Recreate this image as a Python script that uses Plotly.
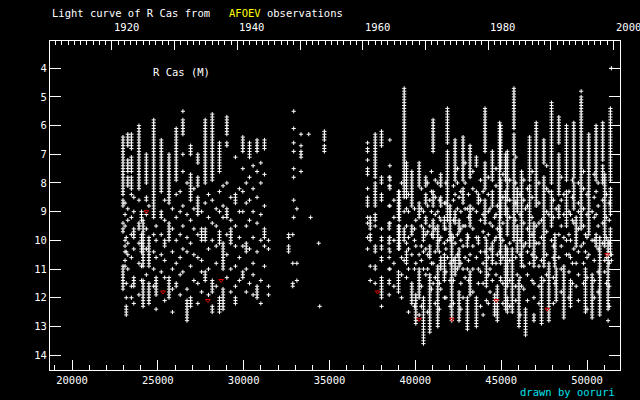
import plotly.graph_objects as go

# ---------------- data ----------------
# Each column: JD-2400000 and the visual estimates (mag) seen at that date.
# "a-b" = every 0.1 mag estimate seen from a to b, single numbers = lone points.
left_jd = [22970, 23090, 23160, 23250, 23460, 23600, 23900, 24050, 24140, 24330,
           24480, 24760, 24900, 25200, 25400, 25650, 25850, 26070, 26300, 26460,
           26700, 26910, 27100, 27330, 27550, 27760, 27950, 28170, 28400, 28590,
           28800, 29020, 29250, 29520, 29750, 29950, 30150, 30340, 30550, 30780,
           31000, 31210, 31450]
left_runs = [
    "6.4-8.4 8.6-8.8 9.4 9.6-9.7 10.9-11.7",
    "8.7 9.1 9.5 10.0 10.2 10.4 10.7 10.9",
    "9.9 10.4 11.5 12.0 12.3-12.6",
    "6.3-6.7 7.2-7.6 7.8-8.1 8.9 9.3 10.1 10.5 11.0",
    "6.3-6.8 7.1-7.6 7.8-8.2 8.4 9.2 9.8 10.6 11.6 12.0",
    "8.5 9.0 9.6-9.9 10.3 11.3-11.6 12.2",
    "6.0-8.2 8.6 9.4-9.6 10.1 10.8 11.9",
    "9.0-9.3 9.8-10.4 10.9 11.4",
    "9.3-10.9 11.4-12.3",
    "7.0-8.0 8.5-8.6 9.1 9.6 10.3 11.2",
    "8.8 9.9-10.9 11.5-12.2",
    "5.8-9.2 9.8 10.4 11.0 11.6",
    "9.5 10.0 10.6 11.3-11.9 12.4",
    "6.5-8.3 9.0-9.2 9.8 10.5 11.1",
    "8.6 9.3 10.0-10.2 10.7 11.3 12.1",
    "7.0-8.7 9.4-10.0 11.3-12.0",
    "8.9 9.6 10.4 11.0 11.7 12.5",
    "6.1-7.9 8.4 9.2 10.0 10.8 11.5-11.6",
    "8.3 9.0 9.8 10.6 11.2 11.9",
    "5.5 5.8-6.3 7.0 7.6 8.8 9.5 10.3 11.1",
    "8.0 9.1 9.9 10.4 11.7 12.1-12.8",
    "6.7-7.0 7.7-8.6 9.3 10.1 10.9 12.0-12.3",
    "8.2 8.9 9.6 10.5 11.4",
    "7.0-7.3 7.8-8.1 8.5-9.1 9.8 10.6 11.5 12.2",
    "9.0 9.6-10.0 10.7 11.1 11.8",
    "5.8-8.0 8.7 9.6-10.0 11.1-11.4",
    "8.4 9.2 10.3 11.0 11.9",
    "5.6-7.9 8.6 9.4 10.0 11.4-11.8 12.3-12.5",
    "8.9 9.5 10.2 10.8 11.6",
    "6.6-7.6 8.3 9.0 9.7-10.1 12.0-12.5",
    "8.1 8.8 9.2 10.1-11.0 11.7-12.4",
    "5.7-6.3 6.6-6.7 8.0 8.9-9.2 9.8 10.5 11.3",
    "8.5 9.3 9.6-10.1 11.0 11.8",
    "7.1 8.4-8.7 9.5 10.2 10.9 11.6 12.0-12.2",
    "8.2 9.0 9.9 10.6 11.4",
    "6.4-6.9 7.5 8.3 9.0 10.2 11.1-11.3",
    "8.0 8.7 9.5 10.1-10.4 11.0 11.8",
    "6.6-7.1 7.8 8.6 9.3 10.3 11.5",
    "7.4 8.2 9.0 9.9 10.8 11.2 11.9",
    "6.5-6.9 7.6 8.5 9.4 10.4 11.6-12.0",
    "7.3 8.0 9.1 10.0 11.4 12.2",
    "6.5-6.8 7.7 8.8 9.6-9.9 10.2 10.9",
    "10.0 10.3 11.6 11.9",
]

mid_jd = [32620, 32860, 32915, 33100, 33340, 33790, 33900, 34370, 34430, 34700]
mid_runs = [
    "9.8-9.9 10.2-10.4",
    "9.8 10.8 11.5 11.6",
    "5.5 6.1 6.6 6.9 7.5 7.8 8.6 9.2",
    "8.9 10.8 11.4",
    "6.3 6.7 6.9-7.1 7.6",
    "6.3",
    "9.2",
    "10.1",
    "12.3",
    "6.2-6.5 6.7-6.9",
]

right_jd = [37217, 37372, 37663, 38031, 38477, 38516, 38750, 39020, 39059, 39200,
            39350, 39485, 39600, 39795, 39950, 40028, 40221, 40350, 40473, 40610,
            40720, 40842, 40940, 41036, 41160, 41307, 41400, 41481, 41694, 41780,
            41869, 42024, 42121, 42220, 42315, 42450, 42547, 42650, 42780, 42900,
            43032, 43100, 43187, 43350, 43555, 43671, 43800, 43950, 44060, 44137,
            44250, 44350, 44485, 44620, 44700, 44776, 44912, 44969, 45100, 45260,
            45357, 45500, 45647, 45744, 45850, 45938, 46035, 46100, 46190, 46320,
            46422, 46530, 46655, 46800, 46907, 47043, 47200, 47353, 47488, 47650,
            47779, 47934, 48040, 48128, 48205, 48360, 48500, 48651, 48806, 48950,
            49039, 49150, 49232, 49368, 49500, 49659, 49800, 49911, 50000, 50105,
            50298, 50420, 50531, 50650, 50744, 50919, 51035, 51130, 51229, 51300,
            51364, 51420]
right_runs = [
    "6.6 6.8-6.9 7.2 7.5-7.7 8.2 8.5-8.8 9.2 9.4 9.9 10.3",
    "9.2-9.6 9.8-10.0 10.9 11.4",
    "6.3-7.8 8.0-8.8 9.1-9.3 9.5 10.2-10.4 10.9-11.0 11.5",
    "6.2-6.7 7.8-8.0 8.4-8.6 9.6 9.9-10.0 10.2-10.3 10.6-10.7 11.3-12.0 12.3",
    "7.8 8.1 8.8 9.4-9.6 9.9-10.1 10.3 10.6 11.0 11.4-11.5 11.9",
    "6.5 7.4 7.8-7.9 8.1-8.2 8.8 9.4 9.9 10.4 11.0",
    "8.6 9.2 10.0 10.8 11.6",
    "8.3-9.2 9.5-10.3 11.1-11.8",
    "8.3-9.3 9.5-10.3",
    "8.0 10.6 11.2 12.0",
    "4.7-6.5 6.6-8.5 9.0 9.6-10.0 10.7",
    "7.3-8.5 8.9 9.5 10.1 10.4-10.8 11.3",
    "8.4 9.0 9.9 10.3 11.0 12.5",
    "7.6-8.8 9.5-9.8 10.5 11.5-12.2",
    "8.9 9.6 10.0 11.0 12.3",
    "9.3 10.2 10.8 11.9-12.9",
    "7.3-8.1 8.7-9.2 10.5 11.0-12.0 12.6",
    "8.2 8.9 9.5 10.2 10.7 11.6 12.3",
    "9.0 9.6-10.0 10.4 11.0 12.0-13.6",
    "7.8-8.1 8.4-8.7 9.2-9.4 9.8 10.3 11.2",
    "8.0 8.8 9.7 10.5 11.0 12.5",
    "8.6 9.5 10.2-10.6 11.2-13.2",
    "7.6 8.3 9.0 9.8 10.8 11.7",
    "5.8-6.9 8.3-8.8 9.3-9.9 10.8 11.5",
    "7.9 8.5 9.1 9.6 10.4 11.3 12.2",
    "8.0 9.0 9.5-10.3 10.9-13.0",
    "8.6 9.2 10.0 10.4 11.5 12.4",
    "7.7-8.1 8.5-8.8 9.3 9.9 10.6-11.0 11.7",
    "8.7 9.2-9.6 10.1 10.5-11.4 12.0",
    "8.0 8.7 9.6 10.3 11.1 12.0",
    "5.4-6.6 6.9-7.8 7.9-9.3 10.0 10.6",
    "8.8-10.0 10.8 11.4 12.3",
    "9.8-12.8",
    "8.1 8.6 9.3 9.9 10.7 11.4 12.2",
    "6.5-7.9 8.4 9.0-9.4 10.1 10.6-11.2",
    "7.5 8.0 8.9 9.8 10.5 11.0",
    "8.5 9.3-9.7 10.3-10.9 11.8-12.8",
    "8.3 9.0 9.6 10.0 10.8 11.5 12.4",
    "6.4-7.9 8.2-8.7 9.5 10.2 11.0 12.0",
    "7.3 8.0 8.9 9.5 10.6 11.3",
    "8.9 9.8-10.2 11.0 12.0-13.1",
    "8.4 9.2 9.9 10.7 11.4",
    "6.7-7.8 8.8-9.5 10.5 11.1-11.9",
    "7.6 8.2 8.9 9.6 10.2 11.0 11.8",
    "7.1-7.4 8.3 9.0 9.9 10.6 12.0-13.0",
    "8.4-8.7 9.9-10.1 11.0 11.5",
    "7.9 8.6 9.3 10.4 11.1 12.3",
    "8.3 9.1 9.7 10.8 11.5 12.6",
    "5.4-6.9 7.3-8.2 8.6-9.4 9.9 10.4",
    "10.0-11.6 12.1",
    "7.8 8.4 9.0 9.8 10.6 11.2 12.2",
    "8.9 9.4 10.3 11.0 11.8",
    "6.9-7.9 8.3-8.8 9.5 10.1-10.8 11.4",
    "9.2 10.0 11.9-12.6",
    "7.5 8.1 9.1 9.9 10.8 11.2",
    "8.8 9.6 10.5 11.6-12.8",
    "5.9-7.9 8.0-9.9 10.4",
    "6.0-7.5 7.9-9.2 9.6-10.8 11.3-11.4",
    "7.7 8.5 9.4 10.0 10.6 11.5 12.2",
    "7.0-7.9 8.3-9.1 10.2-12.4",
    "6.9-8.6 8.9-9.8 10.3-11.6 12.0-12.5",
    "7.9 8.6 9.2 10.1 10.7 11.4 12.3",
    "10.3-12.5",
    "4.7-6.1 6.3-7.0 7.2-7.8 7.9-10.0",
    "7.1 8.0 8.7 9.3 10.6 11.6 12.1",
    "8.2-9.0 9.5-10.4 11.2",
    "11.4-13.0",
    "8.4 9.1 10.0 10.5 11.3 12.6",
    "7.6-9.4 9.5-10.9 11.6",
    "7.9 8.6 9.4 10.2 10.9 11.7",
    "8.9 10.1 12.4-13.3",
    "8.2 8.8 9.6 10.4 11.2 12.1",
    "6.4-7.9 8.1-10.2 10.8",
    "7.6 8.5 9.2 9.8 10.5 11.4",
    "9.4-10.9 11.5 12.0 12.6-12.8",
    "5.9-7.8 7.9-8.8 9.5 10.1 10.6",
    "8.0 8.7 9.4 10.1 10.9 11.6 12.2",
    "9.3 9.9 10.7 11.3-12.9",
    "6.5-7.3 7.8-10.9 11.4",
    "7.4 8.2 9.0 9.7 10.5 11.2",
    "8.3 9.1 10.8-12.8",
    "5.2-8.0 8.3-9.5 10.0",
    "8.6 9.2 10.2 10.6 11.3 12.2",
    "9.8-10.9 11.5",
    "8.9 11.0-12.1",
    "5.7-6.6 7.0-8.4 8.8-9.2 9.8 10.6",
    "7.8 8.6 9.5 10.2 11.0 11.8",
    "8.4 9.1 9.9 10.9-12.7",
    "6.0-7.9 8.3-9.5 10.0 10.5",
    "8.3 9.0 9.8 10.5 11.1 12.0",
    "9.1 10.0 10.6 11.4-12.3",
    "7.9 8.5 9.3 10.8 11.5",
    "5.9-7.8 8.0-8.9 9.4 10.3",
    "9.2-10.2 10.8 11.6",
    "8.0 8.7 9.0 9.6 10.4 11.2 12.1",
    "4.8 5.0-6.9 7.0-9.6 10.2",
    "7.6 8.2 8.9 9.5 10.1 10.8 11.5",
    "9.8 10.4 11.0-12.5",
    "8.4 9.1 9.9 10.6 11.3 12.4",
    "6.3-8.6 8.7-9.8 10.5",
    "9.0 10.0 11.2-12.7",
    "7.7 8.5 9.2 10.0 10.7 11.4 12.0",
    "6.0-7.9 8.3 9.1 9.8-10.2",
    "8.0 8.8 9.5 10.3 11.1 11.8",
    "9.9-12.6",
    "5.9-7.2 7.4-8.0 8.6 9.4 10.1",
    "7.7-10.2 10.7 11.1",
    "8.4 9.2 9.9 10.6 11.5",
    "10.0-12.4 12.8",
    "8.7 9.3 10.1 10.8 11.6 12.3",
    "5.4-7.9 8.2-9.1 9.6-10.5",
    "4.0 10.5 10.7",
]

# "fainter than" estimates (red marks)
lim_jd = [24331, 25297, 27913, 28690, 37797, 40221, 42122, 44716, 47683, 51170]
lim_mag = [9.0, 11.8, 12.1, 11.4, 11.8, 12.75, 12.75, 12.1, 12.4, 10.5]

# axis ticks
jd_ticks = [20000, 25000, 30000, 35000, 40000, 45000, 50000]
mag_ticks = [4, 5, 6, 7, 8, 9, 10, 11, 12, 13, 14]
year_labels = [1920, 1940, 1960, 1980, 2000]
decade_ticks = [1910, 1920, 1930, 1940, 1950, 1960, 1970, 1980, 1990, 2000]
year_ticks = list(range(1904, 2001))

JD_RANGE = [18718, 51922]
MAG_RANGE = [14.52, 3.05]
FONT = "DejaVu Sans Mono"


def expand(runs):
    out = []
    for tok in runs.split():
        if "-" in tok:
            a, b = (float(v) for v in tok.split("-"))
            n = int(round((b - a) * 10))
            out.extend(round(a + i / 10, 1) for i in range(n + 1))
        else:
            out.append(float(tok))
    return out


def year_to_jd(y):
    # JD-2400000 of 1 January of year y
    return 51544.5 + (y - 2000) * 365.25


xs, ys = [], []
for jds, runs in ((left_jd, left_runs), (mid_jd, mid_runs), (right_jd, right_runs)):
    for jd, r in zip(jds, runs):
        for m in expand(r):
            xs.append(jd)
            ys.append(m)

fig = go.Figure()
fig.add_trace(go.Scatter(
    x=xs, y=ys, mode="markers", hoverinfo="skip",
    marker=dict(symbol="cross-thin-open", size=3, color="white",
                line=dict(color="white", width=1)),
))
fig.add_trace(go.Scatter(
    x=lim_jd, y=lim_mag, mode="markers", hoverinfo="skip",
    marker=dict(symbol="triangle-down-open", size=4, color="#e00000",
                line=dict(color="#e00000", width=1)),
))
fig.add_trace(go.Scatter(
    x=JD_RANGE, y=[20, 20], xaxis="x2", mode="markers",
    marker=dict(opacity=0), hoverinfo="skip",
))

tickfont = dict(family=FONT, size=10.5, color="white")

fig.update_layout(
    width=640, height=400,
    paper_bgcolor="black", plot_bgcolor="black",
    margin=dict(l=50, r=20, t=41, b=30),
    showlegend=False,
    xaxis=dict(
        range=JD_RANGE, showgrid=False, zeroline=False,
        showline=True, linecolor="white", linewidth=1, mirror=False,
        tickvals=jd_ticks, ticktext=[str(v) for v in jd_ticks],
        ticks="inside", ticklen=10, tickcolor="white", tickwidth=1,
        minor=dict(ticks="inside", ticklen=5, dtick=1000, tick0=0,
                   tickcolor="white", tickwidth=1, showgrid=False),
        tickfont=tickfont,
    ),
    xaxis2=dict(
        range=JD_RANGE, overlaying="x", side="top", showgrid=False,
        zeroline=False, showline=True, linecolor="white", linewidth=1,
        tickvals=[year_to_jd(y) for y in decade_ticks],
        ticks="inside", ticklen=9, tickcolor="white", tickwidth=1,
        showticklabels=False,
        minor=dict(ticks="inside", ticklen=4,
                   tickvals=[year_to_jd(y) for y in year_ticks],
                   tickcolor="white", tickwidth=1, showgrid=False),
    ),
    yaxis=dict(
        range=MAG_RANGE, showgrid=False, zeroline=False,
        showline=True, linecolor="white", linewidth=1, mirror="ticks",
        tickvals=mag_ticks, ticks="inside", ticklen=11,
        tickcolor="white", tickwidth=1, tickfont=tickfont,
    ),
)

annotations = []
for y in year_labels:
    annotations.append(dict(
        x=year_to_jd(y), xref="x", y=1, yref="paper", yanchor="bottom",
        xanchor="left", yshift=6, text=str(y), showarrow=False,
        font=tickfont,
    ))
annotations.append(dict(
    x=0, xref="paper", y=1.085, yref="paper", xanchor="left", yanchor="middle",
    text=("Light curve of R Cas from&nbsp;&nbsp;&nbsp;"
          "<span style='color:#ffff00'>AFOEV</span> observations"),
    showarrow=False, font=dict(family=FONT, size=10.5, color="white"),
))
annotations.append(dict(
    x=(151 - 50) / 570, xref="paper", y=0.906, yref="paper",
    xanchor="left", yanchor="middle", text="R Cas (M)", showarrow=False,
    font=dict(family=FONT, size=10.5, color="white"),
))
annotations.append(dict(
    x=0.995, xref="paper", y=-0.068, yref="paper", xanchor="right",
    yanchor="middle", text="drawn by ooruri", showarrow=False,
    font=dict(family=FONT, size=10.5, color="#00e0f0"),
))
fig.update_layout(annotations=annotations)

fig.write_html(
    "out.html",
    config=dict(displayModeBar=False),
    post_script="document.body.style.margin='0';"
                "document.body.style.background='black';",
)
